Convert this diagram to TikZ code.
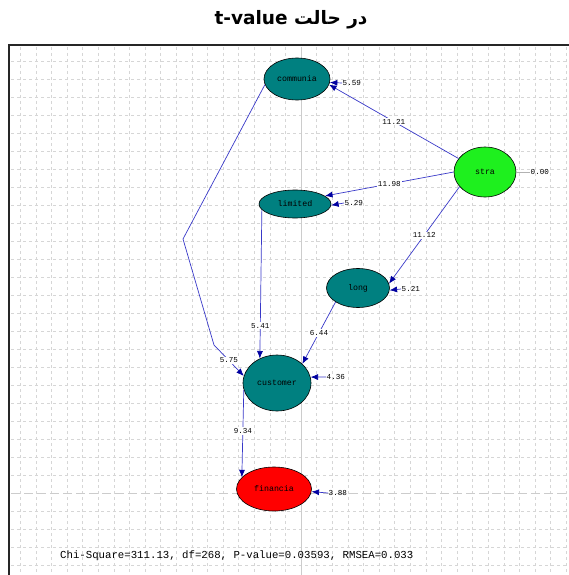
\documentclass[tikz,border=0pt]{standalone}
\usepackage{fontspec}
\newfontfamily\farsi[Script=Arabic]{DejaVu Sans}
\newfontfamily\lmono{Liberation Mono}
\TeXXeTstate=1
\usetikzlibrary{shapes.geometric,arrows.meta}
\definecolor{lteal}{HTML}{008080}
\definecolor{lgreen}{HTML}{1EF01E}
\definecolor{pathblue}{HTML}{3838C8}
\definecolor{headblue}{HTML}{0000A0}

\begin{document}
\begin{tikzpicture}[x=1pt, y=-1pt,
	latent/.style = {draw, ellipse, inner sep=0pt, line width=0.6pt, font=\lmono\fontsize{8.3}{9}\selectfont},
	path/.style = {draw=pathblue, line width=0.7pt, -{Latex[length=7.5pt,width=6pt,color=headblue]}},
	coef/.style = {fill=white, inner sep=1pt, font=\lmono\fontsize{7.6}{8}\selectfont},
	err/.style = {anchor=west, inner sep=0.5pt, font=\lmono\fontsize{7.6}{8}\selectfont},
	gridline/.style = {draw=gray!32, line width=0.5pt, dash pattern=on 3pt off 3pt}]
	\useasboundingbox (0,0) rectangle (569,575);
	
	% grid
	\foreach \k in {0,...,35} {
		\ifnum\k=18 \else
		\draw[gridline] (20.2+15.6*\k,47) -- (20.2+15.6*\k,575);
		\fi
	}
	\foreach \k in {0,...,28} {
		\ifnum\k=24 \else
		\draw[gridline] (11,61+18*\k) -- (569,61+18*\k);
		\fi
	}
	\draw[gray!40, line width=0.6pt] (301,47) -- (301,575);
	\draw[gray!40, line width=0.6pt, dash pattern=on 9pt off 4pt] (11,493) -- (569,493);
	\draw[black!85, line width=2.6pt] (9,575) -- (9,45) -- (569,45);
	
	\node (title) at (291,20) {\farsi\bfseries\fontsize{18.5}{22}\selectfont\beginR در حالت \beginL t-value\endL\endR};
	
	% latent variables
	\node[latent, fill=lteal, minimum width=66pt, minimum height=42pt] (communia) at (297,79) {communia};
	\node[latent, fill=lgreen, minimum width=62pt, minimum height=50pt] (stra) at (485,172) {stra};
	\node[latent, fill=lteal, minimum width=72pt, minimum height=28pt] (limited) at (295,204) {limited};
	\node[latent, fill=lteal, minimum width=63pt, minimum height=39pt] (long) at (358,288) {long};
	\node[latent, fill=lteal, minimum width=68pt, minimum height=56pt] (customer) at (277,383) {customer};
	\node[latent, fill=red, minimum width=75pt, minimum height=44pt] (financia) at (274,489) {financia};
	
	\coordinate (k1) at (183,239);
	\coordinate (k2) at (214,345);
	
	% paths
	\draw[path] (stra.153) -- node[coef] (c1121) {11.21} (communia.350);
	\draw[path] (stra.180) -- node[coef] (c1198) {11.98} (limited.15);
	\draw[path] (stra.210) -- node[coef] (c1112) {11.12} (long.8);
	\draw[path] (communia.190) -- (k1) -- (k2) -- node[coef] (c575) {5.75} (customer.168);
	\draw[path] (limited.190) -- node[coef, pos=0.78] (c541) {5.41} (customer.125);
	\draw[path] (long.212) -- node[coef] (c644) {6.44} (customer.37);
	\draw[path] (customer.192) -- node[coef, pos=0.47] (c934) {9.34} (financia.160);
	
	% error terms
	\node[err] (e559) at (342,83) {5.59};
	\node[err] (e529) at (344,203) {5.29};
	\node[err] (e521) at (401,289) {5.21};
	\node[err] (e436) at (326,377) {4.36};
	\node[err] (e388) at (328,493) {3.88};
	\node[err] (e000) at (530,172) {0.00};
	\draw[path] (e559.west) -- (communia.354);
	\draw[path] (e529.west) -- (limited.358);
	\draw[path] (e521.west) -- (long.356);
	\draw[path] (e436.west) -- (customer.10);
	\draw[path] (e388.west) -- (financia.356);
	\draw[gray!60, line width=0.6pt] (stra.east) -- (e000.west);
	
	\node[anchor=west, inner sep=0pt, font=\lmono\fontsize{10.7}{12}\selectfont] (fit) at (60,556) {Chi-Square=311.13, df=268, P-value=0.03593, RMSEA=0.033};
\end{tikzpicture}
\end{document}
